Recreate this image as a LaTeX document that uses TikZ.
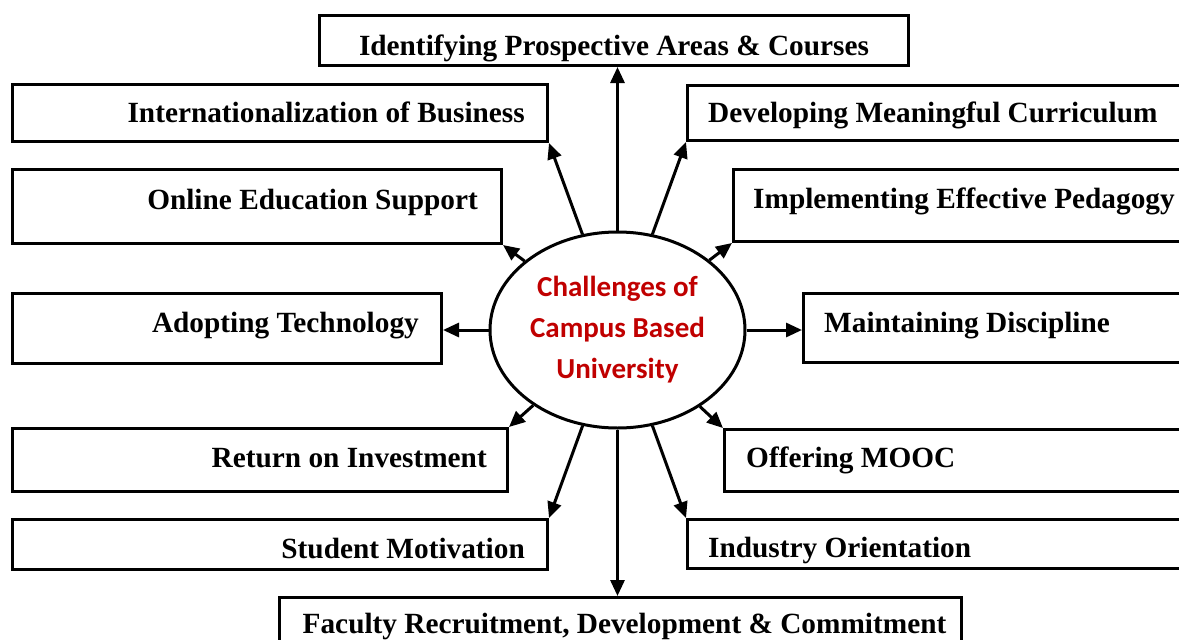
\documentclass[tikz,border=0pt]{standalone}
\usepackage{fontspec}
\setmainfont{Liberation Serif}
\newfontfamily\calibri{Carlito}
\usepackage{tikz}
\usetikzlibrary{shapes,arrows.meta,positioning}
\definecolor{darkred}{RGB}{192,0,0}
\tikzset{
  box/.style={draw, line width=3pt, inner sep=0pt, anchor=north west},
  lbl/.style={font=\fontsize{29.3}{34}\selectfont\bfseries, inner sep=0pt},
  arr/.style={line width=3pt, -{Triangle[length=16pt,width=14pt]}}
}

\begin{document}
\begin{tikzpicture}[x=1pt,y=-1pt]
  \useasboundingbox (0,0) rectangle (1179,640);

  \node[draw, ellipse, line width=3pt, minimum width=255pt, minimum height=196pt, inner sep=0pt, align=center, text=darkred, font=\calibri\fontsize{29}{41}\selectfont\bfseries] (chal) at (617.5,330) {Challenges of\\Campus Based\\University};

  \node[box, minimum width=589pt, minimum height=50pt] (area) at (318,14) {};
  \node[box, minimum width=535pt, minimum height=57pt] (intl) at (11,83) {};
  \node[box, minimum width=489pt, minimum height=74pt] (online) at (11,168) {};
  \node[box, minimum width=429pt, minimum height=70pt] (adopt) at (11,292) {};
  \node[box, minimum width=495pt, minimum height=63pt] (roi) at (11,427) {};
  \node[box, minimum width=535pt, minimum height=50pt] (motiv) at (11,518) {};
  \node[box, minimum width=520pt, minimum height=55pt] (devel) at (686,84) {};
  \node[box, minimum width=470pt, minimum height=72pt] (pedag) at (732,168) {};
  \node[box, minimum width=400pt, minimum height=69pt] (discip) at (802,292) {};
  \node[box, minimum width=480pt, minimum height=62pt] (mooc) at (723,428) {};
  \node[box, minimum width=520pt, minimum height=49pt] (indus) at (686,518) {};
  \node[box, minimum width=682pt, minimum height=60pt] (fac) at (278,596) {};

  \node[lbl, anchor=base] (areatxt) at ([shift={(0,41)}]area.north) {Identifying Prospective Areas \& Courses};
  \node[lbl, anchor=base east] (intltxt) at ([shift={(-24,39)}]intl.north east) {Internationalization of Business};
  \node[lbl, anchor=base east] (onlinetxt) at ([shift={(-25,41)}]online.north east) {Online Education Support};
  \node[lbl, anchor=base east] (adopttxt) at ([shift={(-24,40.5)}]adopt.north east) {Adopting Technology};
  \node[lbl, anchor=base east] (roitxt) at ([shift={(-22,40.5)}]roi.north east) {Return on Investment};
  \node[lbl, anchor=base east] (motivtxt) at ([shift={(-24,40)}]motiv.north east) {Student Motivation};
  \node[lbl, anchor=base west] (develtxt) at ([shift={(22,38.5)}]devel.north west) {Developing Meaningful Curriculum};
  \node[lbl, anchor=base west] (pedagtxt) at ([shift={(21,40.5)}]pedag.north west) {Implementing Effective Pedagogy};
  \node[lbl, anchor=base west] (discitxt) at ([shift={(22,40.5)}]discip.north west) {Maintaining Discipline};
  \node[lbl, anchor=base west] (mooctxt) at ([shift={(23,39.5)}]mooc.north west) {Offering MOOC};
  \node[lbl, anchor=base west] (industxt) at ([shift={(22,39.5)}]indus.north west) {Industry Orientation};
  \node[lbl, anchor=base] (factxt) at ([shift={(4,37)}]fac.north) {Faculty Recruitment, Development \& Commitment};

  \draw[arr] (chal.north) -- (chal.north |- area.south);
  \draw[arr] (chal) -- (intl.south east);
  \draw[arr] (chal) -- (devel.south west);
  \draw[arr] (chal) -- (online.south east);
  \draw[arr] (chal) -- (pedag.south west);
  \draw[arr] (chal.west) -- (chal.west -| adopt.east);
  \draw[arr] (chal.east) -- (chal.east -| discip.west);
  \draw[arr] (chal) -- (roi.north east);
  \draw[arr] (chal) -- (mooc.north west);
  \draw[arr] (chal) -- (motiv.north east);
  \draw[arr] (chal) -- (indus.north west);
  \draw[arr] (chal.south) -- (chal.south |- fac.north);
\end{tikzpicture}
\end{document}
